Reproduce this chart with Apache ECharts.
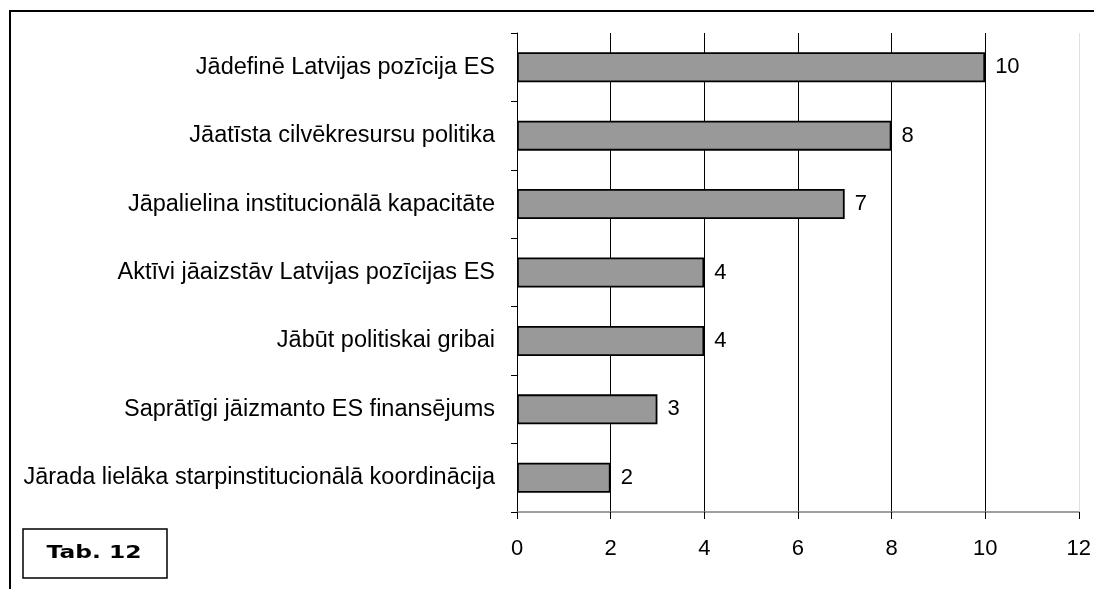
<!DOCTYPE html>
<html>
<head>
<meta charset="utf-8">
<script src="https://cdn.jsdelivr.net/npm/echarts@6/dist/echarts.min.js"></script>
<style>
html, body { margin: 0; padding: 0; background: #fff; }
#chart { width: 1094px; height: 589px; }
</style>
</head>
<body>
<div id="chart"></div>
<script>
const categories = [
  'Jādefinē Latvijas pozīcija ES',
  'Jāatīsta cilvēkresursu politika',
  'Jāpalielina institucionālā kapacitāte',
  'Aktīvi jāaizstāv Latvijas pozīcijas ES',
  'Jābūt politiskai gribai',
  'Saprātīgi jāizmanto ES finansējums',
  'Jārada lielāka starpinstitucionālā koordinācija'
]
const values = [10, 8, 7, 4, 4, 3, 2]
const tableLabel = 'Tab. 12'

const chart = echarts.init(document.getElementById('chart'))
chart.setOption({
  animation: false,
  backgroundColor: '#fff',
  textStyle: { fontFamily: 'Liberation Sans, Arial, sans-serif' },
  grid: {
    left: 517,
    right: 13,
    top: 33,
    bottom: 77
  },
  xAxis: {
    type: 'value',
    min: 0,
    max: 12,
    interval: 2,
    axisLine: { show: true, lineStyle: { color: '#808080', width: 1.5 } },
    axisTick: { show: true, length: 7, lineStyle: { color: '#000' } },
    axisLabel: { color: '#000', fontSize: 22, margin: 26 },
    splitLine: {
      show: true,
      lineStyle: {
        color: ['#000', '#000', '#000', '#000', '#000', '#000', '#e0e0e0'],
        width: 1
      }
    }
  },
  yAxis: {
    type: 'category',
    inverse: true,
    data: categories,
    axisLine: { show: true, lineStyle: { color: '#000', width: 1 } },
    axisTick: { show: true, length: 6, lineStyle: { color: '#000' } },
    axisLabel: { color: '#000', fontSize: 23.5, margin: 22 },
    splitLine: { show: false }
  },
  series: [{
    type: 'bar',
    data: values,
    barWidth: 30,
    itemStyle: { color: '#999999', borderColor: '#000', borderWidth: 1.8 },
    label: {
      show: true,
      position: 'right',
      distance: 10,
      color: '#000',
      fontSize: 22
    }
  }],
  graphic: [
    {
      type: 'rect',
      z: -1,
      shape: { x: 10, y: 11, width: 1300, height: 700 },
      style: { fill: 'none', stroke: '#000', lineWidth: 2 }
    },
    {
      type: 'rect',
      shape: { x: 23, y: 529, width: 144, height: 49 },
      style: { fill: '#fff', stroke: '#000', lineWidth: 1.5 }
    },
    {
      type: 'text',
      x: 94,
      y: 553,
      scaleX: 1.3,
      style: {
        text: tableLabel,
        fill: '#000',
        font: 'bold 18px "DejaVu Sans", Verdana, sans-serif',
        align: 'center',
        verticalAlign: 'middle'
      }
    }
  ]
})
</script>
</body>
</html>
